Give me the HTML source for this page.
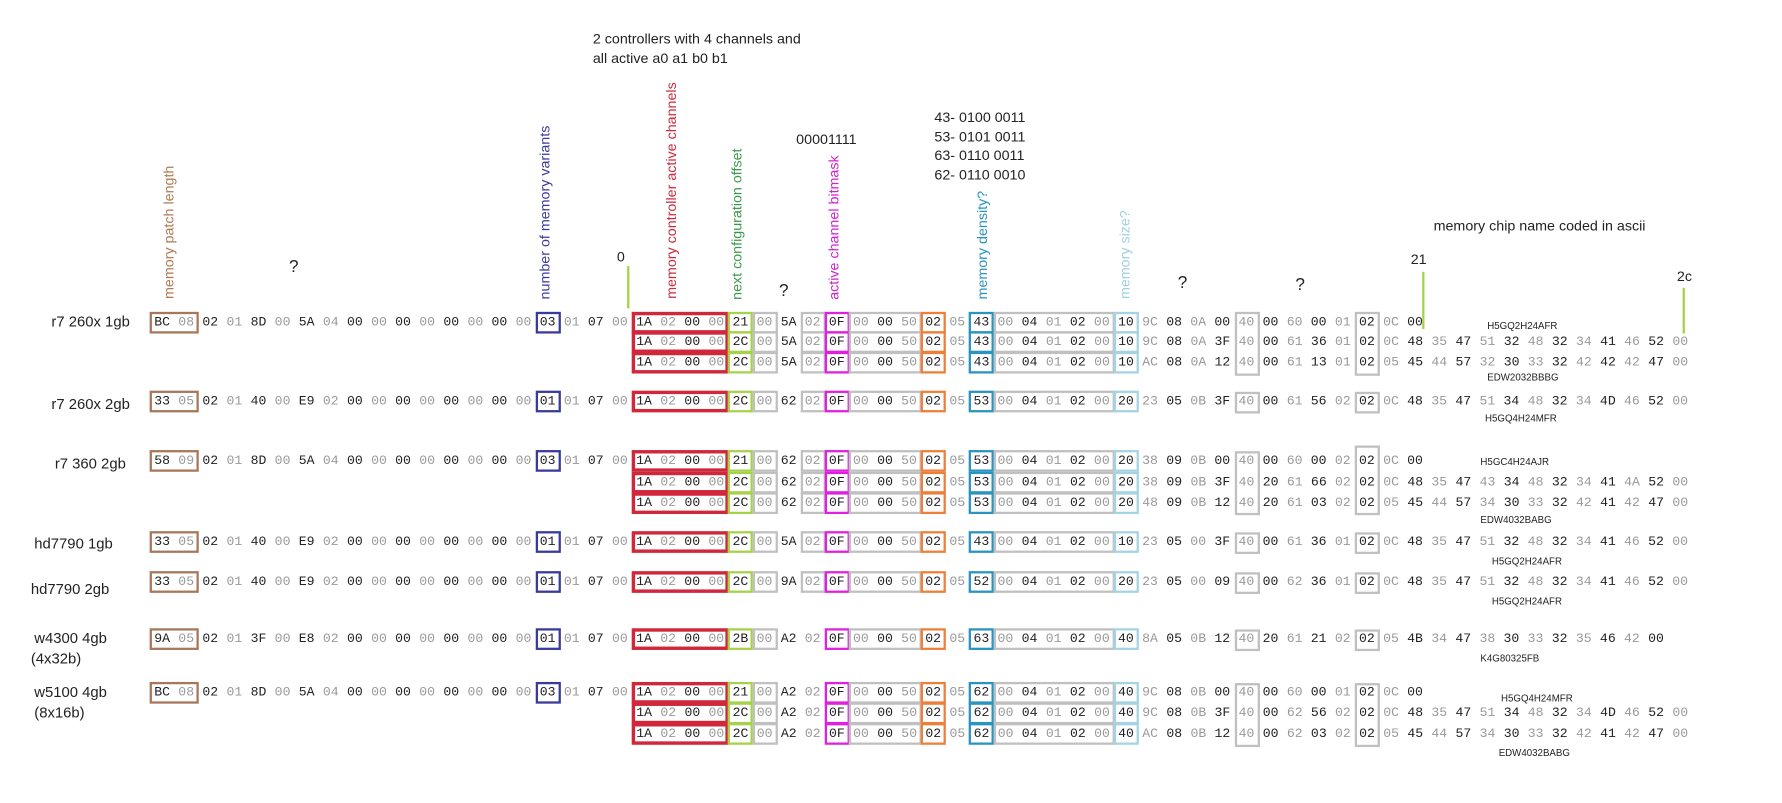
<!DOCTYPE html>
<html><head><meta charset="utf-8"><style>
html,body{margin:0;padding:0;background:#fff;overflow:hidden;width:1782px;height:803px}
#w{position:relative;width:1560px;height:703px;transform:scale(1.1423);transform-origin:0 0}
.a{position:absolute;white-space:nowrap;font-family:"Liberation Sans",sans-serif;color:#222}
.v{position:absolute;writing-mode:vertical-rl;transform:rotate(180deg);font:12.5px/14px "Liberation Sans",sans-serif;white-space:nowrap}
.q{font-size:15px}
.r{position:absolute;left:0;width:1560px;height:17px}
.t{position:absolute;left:135px;top:0;white-space:nowrap;font:11.5px/17px "Liberation Mono",monospace}
.s .t{left:557px}
.t b,.t i{display:inline-block;width:21.1px;font-weight:normal;font-style:normal}
.t b{color:#222}.t i{color:#999}
.x{position:absolute;top:-1px;height:19px;box-sizing:border-box;border:2.5px solid #c0c0c0;width:22px}
.br{left:131px;width:43px;border-color:#a8775a}
.nv{left:468.6px;border-color:#3a3a9a}
.rd{left:553px;width:85px;border-color:#d0283a;border-width:3px}
.lg{left:637.4px;border-color:#a6d24a}
.g1{left:658.5px}
.g2{left:700.7px}
.mg{left:721.8px;border-color:#e020e0}
.g3{left:742.9px;width:64px}
.or{left:806.2px;border-color:#ee7f3a}
.bl{left:848.4px;border-color:#2a93c0}
.g5{left:869.5px;width:106px}
.lb{left:975px;border-color:#a4d4e4}
.tall{position:absolute;box-sizing:border-box;border:2.5px solid #c0c0c0;width:22px}
.n{position:absolute;font:8.5px "Liberation Sans",sans-serif;color:#222;white-space:nowrap}
.gl{position:absolute;width:2px;background:#a6d24a}
</style></head><body><div id="w">

<div class="a" style="left:519px;top:27px;font-size:12.5px">2 controllers with 4 channels and</div>
<div class="a" style="left:519px;top:44px;font-size:12.5px">all active a0 a1 b0 b1</div>
<div class="a" style="left:697px;top:115px;font-size:12.5px">00001111</div>
<div class="a" style="left:818px;top:95px;font-size:12.5px;line-height:16.5px">43- 0100 0011<br>53- 0101 0011<br>63- 0110 0011<br>62- 0110 0010</div>
<div class="a" style="left:1255px;top:191px;font-size:12.5px">memory chip name coded in ascii</div>
<div class="a q" style="left:253px;top:225px">?</div>
<div class="a q" style="left:682px;top:246px">?</div>
<div class="a q" style="left:1031px;top:239px">?</div>
<div class="a q" style="left:1134px;top:241px">?</div>
<div class="a" style="left:540px;top:218px;font-size:12.5px">0</div>
<div class="a" style="left:1235px;top:220px;font-size:12.5px">21</div>
<div class="a" style="left:1468px;top:235px;font-size:12.5px">2c</div>
<div class="gl" style="left:549px;top:233px;height:37px"></div>
<div class="gl" style="left:1245px;top:238px;height:50px"></div>
<div class="gl" style="left:1473px;top:252px;height:40px"></div>

<div class="v" style="left:141px;bottom:441px;color:#b07a55">memory patch length</div>
<div class="v" style="left:470px;bottom:441px;color:#3a3aa0">number of memory variants</div>
<div class="v" style="left:581px;bottom:441px;color:#cc2a3c">memory controller active channels</div>
<div class="v" style="left:638px;bottom:441px;color:#3a9a4a">next configuration offset</div>
<div class="v" style="left:723px;bottom:441px;color:#d020d0">active channel bitmask</div>
<div class="v" style="left:853px;bottom:441px;color:#2a93c0">memory density?</div>
<div class="v" style="left:978px;bottom:441px;color:#9fd0e0">memory size?</div>

<div class="a" style="left:45px;top:274px;font-size:13px">r7 260x 1gb</div>
<div class="a" style="left:45px;top:346px;font-size:13px">r7 260x 2gb</div>
<div class="a" style="left:48px;top:398px;font-size:13px">r7 360 2gb</div>
<div class="a" style="left:30px;top:468px;font-size:13px">hd7790 1gb</div>
<div class="a" style="left:27px;top:508px;font-size:13px">hd7790 2gb</div>
<div class="a" style="left:30px;top:551px;font-size:13px">w4300 4gb</div>
<div class="a" style="left:27px;top:569px;font-size:13px">(4x32b)</div>
<div class="a" style="left:30px;top:598px;font-size:13px">w5100 4gb</div>
<div class="a" style="left:30px;top:616px;font-size:13px">(8x16b)</div>

<div class="n" style="left:1302px;top:280px">H5GQ2H24AFR</div>
<div class="n" style="left:1302px;top:325px">EDW2032BBBG</div>
<div class="n" style="left:1300px;top:361px">H5GQ4H24MFR</div>
<div class="n" style="left:1296px;top:399px">H5GC4H24AJR</div>
<div class="n" style="left:1296px;top:450px">EDW4032BABG</div>
<div class="n" style="left:1306px;top:486px">H5GQ2H24AFR</div>
<div class="n" style="left:1306px;top:521px">H5GQ2H24AFR</div>
<div class="n" style="left:1296px;top:571px">K4G80325FB</div>
<div class="n" style="left:1314px;top:606px">H5GQ4H24MFR</div>
<div class="n" style="left:1312px;top:654px">EDW4032BABG</div>

<!-- tall boxes -->
<div class="tall" style="left:1080.5px;top:273px;height:56px"></div>
<div class="tall" style="left:1186px;top:273px;height:56px"></div>
<div class="tall" style="left:1080.5px;top:343px;height:19px"></div>
<div class="tall" style="left:1186px;top:343px;height:19px"></div>
<div class="tall" style="left:1080.5px;top:395px;height:56px"></div>
<div class="tall" style="left:1186px;top:390px;height:61px"></div>
<div class="tall" style="left:1080.5px;top:466px;height:19px"></div>
<div class="tall" style="left:1186px;top:466px;height:19px"></div>
<div class="tall" style="left:1080.5px;top:501px;height:19px"></div>
<div class="tall" style="left:1186px;top:501px;height:19px"></div>
<div class="tall" style="left:1080.5px;top:551px;height:19px"></div>
<div class="tall" style="left:1186px;top:551px;height:19px"></div>
<div class="tall" style="left:1080.5px;top:598px;height:56px"></div>
<div class="tall" style="left:1186px;top:598px;height:56px"></div>

<!-- Row 1 -->
<div class="r" style="top:274px"><div class="x br"></div><div class="x nv"></div><div class="x rd"></div><div class="x lg"></div><div class="x g1"></div><div class="x g2"></div><div class="x mg"></div><div class="x g3"></div><div class="x or"></div><div class="x bl"></div><div class="x g5"></div><div class="x lb"></div>
<div class="t"><b>BC</b><i>08</i><b>02</b><i>01</i><b>8D</b><i>00</i><b>5A</b><i>04</i><b>00</b><i>00</i><b>00</b><i>00</i><b>00</b><i>00</i><b>00</b><i>00</i><b>03</b><i>01</i><b>07</b><i>00</i><b>1A</b><i>02</i><b>00</b><i>00</i><b>21</b><i>00</i><b>5A</b><i>02</i><b>0F</b><i>00</i><b>00</b><i>50</i><b>02</b><i>05</i><b>43</b><i>00</i><b>04</b><i>01</i><b>02</b><i>00</i><b>10</b><i>9C</i><b>08</b><i>0A</i><b>00</b><i>40</i><b>00</b><i>60</i><b>00</b><i>01</i><b>02</b><i>0C</i><b>00</b></div></div>
<div class="r s" style="top:291px"><div class="x rd"></div><div class="x lg"></div><div class="x g1"></div><div class="x g2"></div><div class="x mg"></div><div class="x g3"></div><div class="x or"></div><div class="x bl"></div><div class="x g5"></div><div class="x lb"></div>
<div class="t"><b>1A</b><i>02</i><b>00</b><i>00</i><b>2C</b><i>00</i><b>5A</b><i>02</i><b>0F</b><i>00</i><b>00</b><i>50</i><b>02</b><i>05</i><b>43</b><i>00</i><b>04</b><i>01</i><b>02</b><i>00</i><b>10</b><i>9C</i><b>08</b><i>0A</i><b>3F</b><i>40</i><b>00</b><i>61</i><b>36</b><i>01</i><b>02</b><i>0C</i><b>48</b><i>35</i><b>47</b><i>51</i><b>32</b><i>48</i><b>32</b><i>34</i><b>41</b><i>46</i><b>52</b><i>00</i></div></div>
<div class="r s" style="top:309px"><div class="x rd"></div><div class="x lg"></div><div class="x g1"></div><div class="x g2"></div><div class="x mg"></div><div class="x g3"></div><div class="x or"></div><div class="x bl"></div><div class="x g5"></div><div class="x lb"></div>
<div class="t"><b>1A</b><i>02</i><b>00</b><i>00</i><b>2C</b><i>00</i><b>5A</b><i>02</i><b>0F</b><i>00</i><b>00</b><i>50</i><b>02</b><i>05</i><b>43</b><i>00</i><b>04</b><i>01</i><b>02</b><i>00</i><b>10</b><i>AC</i><b>08</b><i>0A</i><b>12</b><i>40</i><b>00</b><i>61</i><b>13</b><i>01</i><b>02</b><i>05</i><b>45</b><i>44</i><b>57</b><i>32</i><b>30</b><i>33</i><b>32</b><i>42</i><b>42</b><i>42</i><b>47</b><i>00</i></div></div>

<!-- Row 2 -->
<div class="r" style="top:343px"><div class="x br"></div><div class="x nv"></div><div class="x rd"></div><div class="x lg"></div><div class="x g1"></div><div class="x g2"></div><div class="x mg"></div><div class="x g3"></div><div class="x or"></div><div class="x bl"></div><div class="x g5"></div><div class="x lb"></div>
<div class="t"><b>33</b><i>05</i><b>02</b><i>01</i><b>40</b><i>00</i><b>E9</b><i>02</i><b>00</b><i>00</i><b>00</b><i>00</i><b>00</b><i>00</i><b>00</b><i>00</i><b>01</b><i>01</i><b>07</b><i>00</i><b>1A</b><i>02</i><b>00</b><i>00</i><b>2C</b><i>00</i><b>62</b><i>02</i><b>0F</b><i>00</i><b>00</b><i>50</i><b>02</b><i>05</i><b>53</b><i>00</i><b>04</b><i>01</i><b>02</b><i>00</i><b>20</b><i>23</i><b>05</b><i>0B</i><b>3F</b><i>40</i><b>00</b><i>61</i><b>56</b><i>02</i><b>02</b><i>0C</i><b>48</b><i>35</i><b>47</b><i>51</i><b>34</b><i>48</i><b>32</b><i>34</i><b>4D</b><i>46</i><b>52</b><i>00</i></div></div>

<!-- Row 3 -->
<div class="r" style="top:395px"><div class="x br"></div><div class="x nv"></div><div class="x rd"></div><div class="x lg"></div><div class="x g1"></div><div class="x g2"></div><div class="x mg"></div><div class="x g3"></div><div class="x or"></div><div class="x bl"></div><div class="x g5"></div><div class="x lb"></div>
<div class="t"><b>58</b><i>09</i><b>02</b><i>01</i><b>8D</b><i>00</i><b>5A</b><i>04</i><b>00</b><i>00</i><b>00</b><i>00</i><b>00</b><i>00</i><b>00</b><i>00</i><b>03</b><i>01</i><b>07</b><i>00</i><b>1A</b><i>02</i><b>00</b><i>00</i><b>21</b><i>00</i><b>62</b><i>02</i><b>0F</b><i>00</i><b>00</b><i>50</i><b>02</b><i>05</i><b>53</b><i>00</i><b>04</b><i>01</i><b>02</b><i>00</i><b>20</b><i>38</i><b>09</b><i>0B</i><b>00</b><i>40</i><b>00</b><i>60</i><b>00</b><i>02</i><b>02</b><i>0C</i><b>00</b></div></div>
<div class="r s" style="top:414px"><div class="x rd"></div><div class="x lg"></div><div class="x g1"></div><div class="x g2"></div><div class="x mg"></div><div class="x g3"></div><div class="x or"></div><div class="x bl"></div><div class="x g5"></div><div class="x lb"></div>
<div class="t"><b>1A</b><i>02</i><b>00</b><i>00</i><b>2C</b><i>00</i><b>62</b><i>02</i><b>0F</b><i>00</i><b>00</b><i>50</i><b>02</b><i>05</i><b>53</b><i>00</i><b>04</b><i>01</i><b>02</b><i>00</i><b>20</b><i>38</i><b>09</b><i>0B</i><b>3F</b><i>40</i><b>20</b><i>61</i><b>66</b><i>02</i><b>02</b><i>0C</i><b>48</b><i>35</i><b>47</b><i>43</i><b>34</b><i>48</i><b>32</b><i>34</i><b>41</b><i>4A</i><b>52</b><i>00</i></div></div>
<div class="r s" style="top:432px"><div class="x rd"></div><div class="x lg"></div><div class="x g1"></div><div class="x g2"></div><div class="x mg"></div><div class="x g3"></div><div class="x or"></div><div class="x bl"></div><div class="x g5"></div><div class="x lb"></div>
<div class="t"><b>1A</b><i>02</i><b>00</b><i>00</i><b>2C</b><i>00</i><b>62</b><i>02</i><b>0F</b><i>00</i><b>00</b><i>50</i><b>02</b><i>05</i><b>53</b><i>00</i><b>04</b><i>01</i><b>02</b><i>00</i><b>20</b><i>48</i><b>09</b><i>0B</i><b>12</b><i>40</i><b>20</b><i>61</i><b>03</b><i>02</i><b>02</b><i>05</i><b>45</b><i>44</i><b>57</b><i>34</i><b>30</b><i>33</i><b>32</b><i>42</i><b>41</b><i>42</i><b>47</b><i>00</i></div></div>

<!-- Row 4 -->
<div class="r" style="top:466px"><div class="x br"></div><div class="x nv"></div><div class="x rd"></div><div class="x lg"></div><div class="x g1"></div><div class="x g2"></div><div class="x mg"></div><div class="x g3"></div><div class="x or"></div><div class="x bl"></div><div class="x g5"></div><div class="x lb"></div>
<div class="t"><b>33</b><i>05</i><b>02</b><i>01</i><b>40</b><i>00</i><b>E9</b><i>02</i><b>00</b><i>00</i><b>00</b><i>00</i><b>00</b><i>00</i><b>00</b><i>00</i><b>01</b><i>01</i><b>07</b><i>00</i><b>1A</b><i>02</i><b>00</b><i>00</i><b>2C</b><i>00</i><b>5A</b><i>02</i><b>0F</b><i>00</i><b>00</b><i>50</i><b>02</b><i>05</i><b>43</b><i>00</i><b>04</b><i>01</i><b>02</b><i>00</i><b>10</b><i>23</i><b>05</b><i>00</i><b>3F</b><i>40</i><b>00</b><i>61</i><b>36</b><i>01</i><b>02</b><i>0C</i><b>48</b><i>35</i><b>47</b><i>51</i><b>32</b><i>48</i><b>32</b><i>34</i><b>41</b><i>46</i><b>52</b><i>00</i></div></div>

<!-- Row 5 -->
<div class="r" style="top:501px"><div class="x br"></div><div class="x nv"></div><div class="x rd"></div><div class="x lg"></div><div class="x g1"></div><div class="x g2"></div><div class="x mg"></div><div class="x g3"></div><div class="x or"></div><div class="x bl"></div><div class="x g5"></div><div class="x lb"></div>
<div class="t"><b>33</b><i>05</i><b>02</b><i>01</i><b>40</b><i>00</i><b>E9</b><i>02</i><b>00</b><i>00</i><b>00</b><i>00</i><b>00</b><i>00</i><b>00</b><i>00</i><b>01</b><i>01</i><b>07</b><i>00</i><b>1A</b><i>02</i><b>00</b><i>00</i><b>2C</b><i>00</i><b>9A</b><i>02</i><b>0F</b><i>00</i><b>00</b><i>50</i><b>02</b><i>05</i><b>52</b><i>00</i><b>04</b><i>01</i><b>02</b><i>00</i><b>20</b><i>23</i><b>05</b><i>00</i><b>09</b><i>40</i><b>00</b><i>62</i><b>36</b><i>01</i><b>02</b><i>0C</i><b>48</b><i>35</i><b>47</b><i>51</i><b>32</b><i>48</i><b>32</b><i>34</i><b>41</b><i>46</i><b>52</b><i>00</i></div></div>

<!-- Row 6 -->
<div class="r" style="top:551px"><div class="x br"></div><div class="x nv"></div><div class="x rd"></div><div class="x lg"></div><div class="x g1"></div><div class="x mg"></div><div class="x g3"></div><div class="x or"></div><div class="x bl"></div><div class="x g5"></div><div class="x lb"></div>
<div class="t"><b>9A</b><i>05</i><b>02</b><i>01</i><b>3F</b><i>00</i><b>E8</b><i>02</i><b>00</b><i>00</i><b>00</b><i>00</i><b>00</b><i>00</i><b>00</b><i>00</i><b>01</b><i>01</i><b>07</b><i>00</i><b>1A</b><i>02</i><b>00</b><i>00</i><b>2B</b><i>00</i><b>A2</b><i>02</i><b>0F</b><i>00</i><b>00</b><i>50</i><b>02</b><i>05</i><b>63</b><i>00</i><b>04</b><i>01</i><b>02</b><i>00</i><b>40</b><i>8A</i><b>05</b><i>0B</i><b>12</b><i>40</i><b>20</b><i>61</i><b>21</b><i>02</i><b>02</b><i>05</i><b>4B</b><i>34</i><b>47</b><i>38</i><b>30</b><i>33</i><b>32</b><i>35</i><b>46</b><i>42</i><b>00</b></div></div>

<!-- Row 7 -->
<div class="r" style="top:598px"><div class="x br"></div><div class="x nv"></div><div class="x rd"></div><div class="x lg"></div><div class="x g1"></div><div class="x mg"></div><div class="x g3"></div><div class="x or"></div><div class="x bl"></div><div class="x g5"></div><div class="x lb"></div>
<div class="t"><b>BC</b><i>08</i><b>02</b><i>01</i><b>8D</b><i>00</i><b>5A</b><i>04</i><b>00</b><i>00</i><b>00</b><i>00</i><b>00</b><i>00</i><b>00</b><i>00</i><b>03</b><i>01</i><b>07</b><i>00</i><b>1A</b><i>02</i><b>00</b><i>00</i><b>21</b><i>00</i><b>A2</b><i>02</i><b>0F</b><i>00</i><b>00</b><i>50</i><b>02</b><i>05</i><b>62</b><i>00</i><b>04</b><i>01</i><b>02</b><i>00</i><b>40</b><i>9C</i><b>08</b><i>0B</i><b>00</b><i>40</i><b>00</b><i>60</i><b>00</b><i>01</i><b>02</b><i>0C</i><b>00</b></div></div>
<div class="r s" style="top:616px"><div class="x rd"></div><div class="x lg"></div><div class="x g1"></div><div class="x mg"></div><div class="x g3"></div><div class="x or"></div><div class="x bl"></div><div class="x g5"></div><div class="x lb"></div>
<div class="t"><b>1A</b><i>02</i><b>00</b><i>00</i><b>2C</b><i>00</i><b>A2</b><i>02</i><b>0F</b><i>00</i><b>00</b><i>50</i><b>02</b><i>05</i><b>62</b><i>00</i><b>04</b><i>01</i><b>02</b><i>00</i><b>40</b><i>9C</i><b>08</b><i>0B</i><b>3F</b><i>40</i><b>00</b><i>62</i><b>56</b><i>02</i><b>02</b><i>0C</i><b>48</b><i>35</i><b>47</b><i>51</i><b>34</b><i>48</i><b>32</b><i>34</i><b>4D</b><i>46</i><b>52</b><i>00</i></div></div>
<div class="r s" style="top:634px"><div class="x rd"></div><div class="x lg"></div><div class="x g1"></div><div class="x mg"></div><div class="x g3"></div><div class="x or"></div><div class="x bl"></div><div class="x g5"></div><div class="x lb"></div>
<div class="t"><b>1A</b><i>02</i><b>00</b><i>00</i><b>2C</b><i>00</i><b>A2</b><i>02</i><b>0F</b><i>00</i><b>00</b><i>50</i><b>02</b><i>05</i><b>62</b><i>00</i><b>04</b><i>01</i><b>02</b><i>00</i><b>40</b><i>AC</i><b>08</b><i>0B</i><b>12</b><i>40</i><b>00</b><i>62</i><b>03</b><i>02</i><b>02</b><i>05</i><b>45</b><i>44</i><b>57</b><i>34</i><b>30</b><i>33</i><b>32</b><i>42</i><b>41</b><i>42</i><b>47</b><i>00</i></div></div>

</div></body></html>
